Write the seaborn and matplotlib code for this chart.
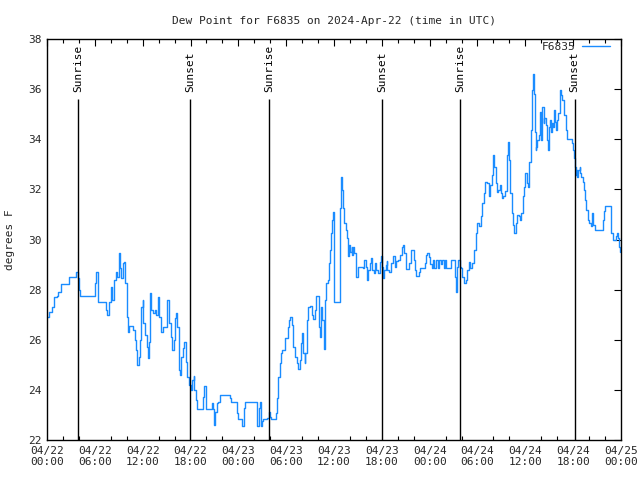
import matplotlib
matplotlib.use("Agg")
import matplotlib.pyplot as plt
import seaborn as sns
import pandas as pd
from matplotlib.ticker import MultipleLocator, FixedLocator

# ---- data (hours since 2024-04-22 00:00 UTC, dew point in degrees F) ----
hours = [0.0, 0.3, 0.6, 0.9, 1.2, 1.4, 1.7, 2.5, 2.7, 3.5, 3.7, 3.9, 4.0, 4.2, 5.9, 6.0, 6.2, 6.4, 7.2, 7.4,
         7.5, 7.8, 8.0, 8.2, 8.4, 8.6, 8.8, 9.0, 9.2, 9.3, 9.5, 9.7, 9.8, 10.0, 10.1, 10.3, 10.6, 10.8, 11.0, 11.2,
         11.3, 11.5, 11.7, 11.8, 12.0, 12.1, 12.3, 12.5, 12.7, 12.8, 12.9, 13.1, 13.3, 13.5, 13.7, 13.9, 14.1, 14.3,
         14.5, 14.9, 15.1, 15.3, 15.5, 15.7, 15.9, 16.1, 16.2, 16.3, 16.5, 16.7, 16.8, 17.0, 17.2, 17.4, 17.6, 17.8,
         18.0, 18.1, 18.2, 18.4, 18.5, 18.7, 18.8, 19.5, 19.6, 19.7, 19.9, 20.0, 20.6, 20.7, 20.8, 21.0, 21.1, 21.3,
         21.5, 21.7, 22.75, 22.9, 23.1, 23.6, 23.8, 24.0, 24.4, 24.6, 24.7, 24.8, 26.3, 26.4, 26.6, 26.7, 26.8, 27.0,
         27.1, 27.6, 27.8, 28.0, 28.1, 28.5, 28.7, 28.8, 29.0, 29.2, 29.4, 29.5, 29.8, 29.9, 30.2, 30.4, 30.5, 30.7,
         30.9, 31.1, 31.3, 31.5, 31.7, 31.8, 32.0, 32.1, 32.3, 32.4, 32.6, 32.8, 33.0, 33.2, 33.4, 33.6, 33.7, 33.9,
         34.1, 34.3, 34.4, 34.5, 34.7, 34.9, 35.0, 35.2, 35.4, 35.5, 35.6, 35.8, 35.9, 36.0, 36.05, 36.7, 36.8, 36.9,
         37.0, 37.1, 37.3, 37.5, 37.6, 37.8, 37.9, 38.0, 38.2, 38.3, 38.4, 38.55, 38.7, 38.8, 39.0, 39.7, 39.8, 40.0,
         40.1, 40.3, 40.5, 40.7, 40.8, 41.0, 41.1, 41.3, 41.5, 41.8, 41.9, 42.0, 42.1, 42.3, 42.5, 42.6, 42.7, 42.9,
         43.2, 43.4, 43.6, 43.8, 44.0, 44.3, 44.5, 44.6, 44.8, 45.0, 45.2, 45.4, 45.6, 45.7, 45.9, 46.0, 46.15, 46.3,
         46.5, 46.6, 46.8, 47.2, 47.4, 47.6, 47.7, 47.9, 48.0, 48.1, 48.3, 48.4, 48.6, 48.8, 49.0, 49.2, 49.4, 49.6,
         49.75, 49.9, 50.1, 50.5, 50.7, 51.1, 51.2, 51.3, 51.4, 51.6, 51.8, 51.9, 52.1, 52.3, 52.5, 52.7, 52.9, 53.1,
         53.3, 53.5, 53.8, 54.0, 54.2, 54.4, 54.6, 54.8, 55.0, 55.2, 55.4, 55.5, 55.6, 55.8, 56.0, 56.1, 56.3, 56.4,
         56.6, 56.8, 56.9, 57.1, 57.25, 57.4, 57.7, 57.8, 57.9, 58.1, 58.3, 58.4, 58.6, 58.8, 59.0, 59.2, 59.3, 59.5,
         59.7, 59.8, 60.0, 60.15, 60.3, 60.4, 60.5, 60.7, 60.8, 60.9, 61.0, 61.05, 61.1, 61.2, 61.3, 61.4, 61.5, 61.7,
         61.8, 62.0, 62.1, 62.3, 62.4, 62.55, 62.7, 62.8, 63.0, 63.1, 63.2, 63.4, 63.5, 63.6, 63.7, 63.9, 64.0, 64.15,
         64.3, 64.4, 64.5, 64.6, 64.8, 64.9, 65.1, 65.2, 65.7, 65.8, 66.0, 66.1, 66.2, 66.3, 66.4, 66.5, 66.6, 66.8,
         66.9, 67.0, 67.2, 67.3, 67.5, 67.6, 67.8, 67.9, 68.0, 68.2, 68.3, 68.4, 68.5, 68.7, 69.6, 69.7, 69.9, 70.0,
         70.55, 70.7, 70.8, 71.0, 71.3, 71.4, 71.5, 71.6, 71.7, 71.9]
dewpoint = [26.9, 27.1, 27.32, 27.69, 27.75, 27.92, 28.22, 28.22, 28.49, 28.49, 28.72, 28.45, 27.99, 27.75, 27.75, 28.25, 28.72, 27.52, 27.52, 27.19,
            26.99, 27.52, 28.12, 27.6, 28.38, 28.72, 28.5, 29.45, 28.85, 28.45, 29.05, 29.1, 28.25, 26.92, 26.32, 26.55, 26.55, 26.39, 25.99, 25.6,
            24.99, 25.3, 26.0, 27.32, 27.59, 26.66, 26.19, 25.72, 25.26, 25.9, 27.85, 27.2, 27.05, 27.2, 26.99, 27.72, 26.92, 26.32,
            26.5, 26.5, 27.59, 26.66, 26.12, 25.59, 26.0, 26.86, 27.05, 26.5, 24.79, 24.59, 25.32, 25.66, 25.92, 25.12, 24.53, 24.19,
            24.12, 23.99, 24.39, 24.56, 23.99, 23.6, 23.22, 23.22, 23.73, 24.15, 23.66, 23.22, 23.22, 23.46, 23.22, 22.6, 23.1, 23.49,
            23.5, 23.78, 23.78, 23.66, 23.5, 23.5, 23.06, 22.82, 22.56, 22.56, 23.26, 23.5, 23.5, 22.56, 23.26, 23.5, 22.56, 22.75,
            22.82, 22.86, 23.13, 22.92, 22.82, 22.82, 23.06, 23.66, 24.53, 25.06, 25.46, 25.6, 25.62, 26.06, 26.52, 26.79, 26.92, 26.59,
            25.72, 25.32, 25.06, 24.83, 25.2, 25.86, 26.28, 25.46, 25.06, 25.46, 26.79, 27.29, 27.35, 26.99, 26.81, 27.19, 27.75, 27.75,
            26.52, 26.12, 27.32, 26.79, 25.62, 27.59, 28.25, 28.39, 29.05, 29.58, 30.25, 30.78, 31.1, 30.6, 27.52, 27.52, 31.24, 32.5,
            31.98, 31.24, 30.65, 30.38, 30.05, 29.34, 29.78, 29.5, 29.72, 29.38, 29.72, 29.45, 28.78, 28.52, 28.89, 28.85, 29.18, 28.92,
            28.38, 28.78, 29.05, 29.25, 28.78, 28.65, 29.05, 28.78, 28.65, 29.12, 29.34, 28.92, 28.45, 28.78, 28.98, 29.15, 28.78, 28.72,
            29.05, 29.34, 28.92, 29.15, 29.18, 29.38, 29.72, 29.78, 29.45, 28.81, 28.81, 29.05, 29.45, 29.6, 29.6, 29.18, 28.78, 28.54,
            28.54, 28.72, 28.85, 28.85, 29.05, 29.38, 29.47, 29.3, 29.18, 29.02, 28.85, 29.18, 28.85, 29.18, 28.85, 29.18, 29.02, 29.18,
            28.85, 29.18, 28.85, 28.85, 29.18, 29.18, 28.52, 27.92, 28.92, 29.18, 28.92, 28.85, 28.52, 28.25, 28.38, 28.78, 29.12, 28.85,
            29.08, 29.58, 30.25, 30.65, 30.52, 30.92, 31.45, 31.85, 32.31, 32.25, 32.11, 31.72, 32.18, 32.57, 33.37, 32.91, 32.25, 31.88,
            31.98, 32.18, 31.85, 31.65, 31.75, 31.92, 33.37, 33.9, 33.17, 31.85, 31.05, 30.58, 30.25, 30.65, 30.98, 30.92, 30.78, 31.05,
            31.72, 32.11, 32.64, 32.25, 32.11, 32.18, 33.11, 34.37, 35.97, 36.37, 36.6, 36.03, 35.8, 34.3, 33.57, 33.7, 33.97, 34.17,
            35.1, 33.97, 35.3, 34.64, 34.83, 34.57, 33.97, 33.57, 34.5, 34.77, 34.3, 34.64, 34.5, 35.17, 34.7, 34.37, 34.77, 35.04,
            35.84, 35.97, 35.77, 35.57, 35.44, 34.97, 34.37, 34.0, 34.0, 33.84, 33.57, 33.24, 32.91, 32.57, 32.78, 32.51, 32.78, 32.91,
            32.64, 32.51, 32.31, 31.98, 31.58, 31.18, 30.92, 30.78, 30.65, 30.52, 30.92, 31.05, 30.58, 30.38, 30.38, 30.78, 31.12, 31.32,
            31.32, 30.78, 30.25, 29.98, 29.98, 30.12, 30.25, 30.05, 29.72, 29.52]

event_hours = [3.93, 17.98, 27.9, 42.07, 51.86, 66.17]
event_labels = ["Sunrise", "Sunset", "Sunrise", "Sunset", "Sunrise", "Sunset"]

tick_hours = [0, 6, 12, 18, 24, 30, 36, 42, 48, 54, 60, 66, 72]
tick_labels = ["04/22\n00:00", "04/22\n06:00", "04/22\n12:00", "04/22\n18:00",
               "04/23\n00:00", "04/23\n06:00", "04/23\n12:00", "04/23\n18:00",
               "04/24\n00:00", "04/24\n06:00", "04/24\n12:00", "04/24\n18:00",
               "04/25\n00:00"]

df = pd.DataFrame({"hours": hours, "dewpoint": dewpoint})

sns.set_style("white")
plt.rcParams["font.family"] = ["DejaVu Sans Mono"]
plt.rcParams["font.size"] = 8

fig = plt.figure(figsize=(6.4, 4.8), dpi=100)
ax = fig.add_axes([47 / 640, 40 / 480, (621 - 47) / 640, (440 - 39) / 480])

sns.lineplot(data=df, x="hours", y="dewpoint", ax=ax, color="#1a8cff",
             linewidth=1.0, label="F6835", drawstyle="steps-post")

ymin, ymax = 22, 38
line_top = 35.6
for h, lab in zip(event_hours, event_labels):
    ax.vlines(h, ymin, line_top, color="black", linewidth=1.0)
    ax.text(h, line_top + 0.3, lab, rotation=90, ha="center", va="bottom",
            fontsize=8, color="black")

ax.set_xlim(0, 72)
ax.set_ylim(ymin, ymax)
ax.xaxis.set_major_locator(FixedLocator(tick_hours))
ax.set_xticklabels(tick_labels)
ax.xaxis.set_minor_locator(MultipleLocator(2))
ax.yaxis.set_major_locator(MultipleLocator(2))

ax.tick_params(axis="both", which="major", direction="in", length=5, width=0.8,
               top=True, right=True, labelsize=8, pad=4, color="black")
ax.tick_params(axis="x", which="minor", direction="in", length=3, width=0.8,
               top=True, bottom=True, color="black")
for s in ax.spines.values():
    s.set_color("black")
    s.set_linewidth(1.0)

ax.set_xlabel("")
ax.set_ylabel("degrees F", fontsize=8)
ax.yaxis.set_label_coords(-0.055, 0.5)
ax.set_title("Dew Point for F6835 on 2024-Apr-22 (time in UTC)", fontsize=8, pad=11)

leg = ax.legend(loc="upper right", bbox_to_anchor=(0.9808, 0.993), frameon=False,
                markerfirst=False, handlelength=2.5, handletextpad=0.6,
                fontsize=8, borderaxespad=0.0, borderpad=0.0)

fig.savefig("out.png", dpi=100)
